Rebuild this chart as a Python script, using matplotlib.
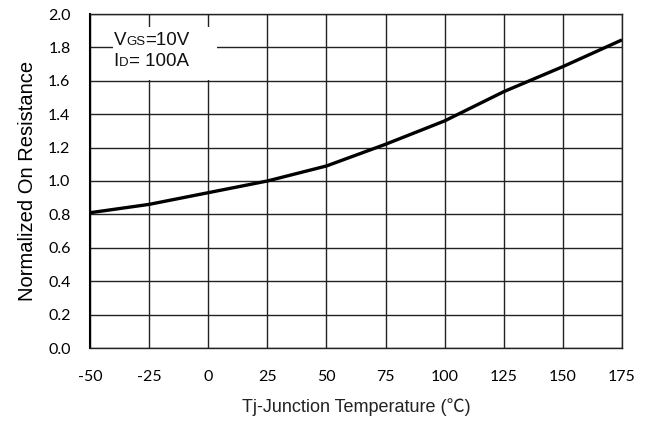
import matplotlib
matplotlib.use("Agg")
from matplotlib import pyplot as plt
from matplotlib.patches import Rectangle
from matplotlib.offsetbox import TextArea, HPacker, VPacker, AnnotationBbox
import numpy as np

# data
temp_c = [-50, -25, 0, 25, 50, 75, 100, 125, 150, 175]
r_norm = [0.81, 0.86, 0.93, 1.00, 1.09, 1.22, 1.36, 1.535, 1.685, 1.845]

x_ticks = [-50, -25, 0, 25, 50, 75, 100, 125, 150, 175]
y_ticks = [0.0, 0.2, 0.4, 0.6, 0.8, 1.0, 1.2, 1.4, 1.6, 1.8, 2.0]

label_font = ["Liberation Sans", "Noto Sans CJK SC", "DejaVu Sans"]
tick_font = "Lato"

fig = plt.figure(figsize=(6.57, 4.25), dpi=100)
ax = fig.add_axes([90 / 657, 1 - 348 / 425, 532 / 657, 334 / 425])

ax.plot(temp_c, r_norm, color="black", linewidth=2.4, solid_capstyle="butt", zorder=4)

ax.set_xlim(-50, 175)
ax.set_ylim(0, 2.0)
ax.set_xticks(x_ticks)
ax.set_yticks(y_ticks)
ax.set_xticklabels([str(t) for t in x_ticks], fontfamily=tick_font, fontsize=11.5)
ax.set_yticklabels([f"{t:.1f}" for t in y_ticks], fontfamily=tick_font, fontsize=11.5)
ax.tick_params(axis="both", length=0, colors="black")
ax.tick_params(axis="x", pad=16)
ax.tick_params(axis="y", pad=14)

ax.grid(True, color="#222222", linewidth=1.0)
ax.set_axisbelow(True)
for side in ["top", "right", "bottom"]:
    ax.spines[side].set_linewidth(1.0)
    ax.spines[side].set_color("#222222")
ax.spines["left"].set_linewidth(1.5)

ax.set_ylabel("Normalized On Resistance", fontfamily=label_font, fontsize=14.5, labelpad=8)
ax.set_xlabel("Tj-Junction Temperature (\u2103)", fontfamily=label_font, fontsize=13, labelpad=10,
              color="#222222")

# white patch that hides the grid behind the test conditions
ax.add_patch(Rectangle((-40.3, 1.605), 44.0, 0.317, facecolor="white", edgecolor="none", zorder=3))

# condition text, small subscripts on the baseline
big = dict(fontfamily=label_font, fontsize=13.5, color="#111111")
small = dict(fontfamily=label_font, fontsize=9.5, color="#111111")
row1 = HPacker(children=[TextArea("V", textprops=big), TextArea("GS", textprops=small),
                         TextArea("=10V", textprops=big)], align="baseline", pad=0, sep=0)
row2 = HPacker(children=[TextArea("I", textprops=big), TextArea("D", textprops=small),
                         TextArea("= 100A", textprops=big)], align="baseline", pad=0, sep=0)
box = VPacker(children=[row1, row2], align="left", pad=0, sep=3)
ab = AnnotationBbox(box, (-40.0, 1.895), xycoords="data", box_alignment=(0, 1),
                    frameon=False, zorder=4)
ax.add_artist(ab)

fig.savefig("out.png", dpi=100)
